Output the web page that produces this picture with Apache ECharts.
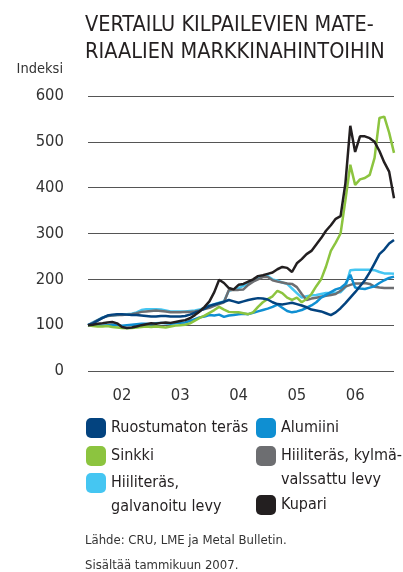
<!DOCTYPE html>
<html>
<head>
<meta charset="utf-8">
<script src="https://cdn.jsdelivr.net/npm/echarts@6/dist/echarts.min.js"></script>
<style>
  html, body { margin: 0; padding: 0; background: #fff; }
  #chart { width: 403px; height: 572px; }
</style>
</head>
<body>
<div id="chart"></div>
<script>
// kuukaudet, indeksi 100 = alku
const months = [
  "2001-11", "2001-12",
  "2002-01", "2002-02", "2002-03", "2002-04", "2002-05", "2002-06", "2002-07", "2002-08", "2002-09", "2002-10", "2002-11", "2002-12",
  "2003-01", "2003-02", "2003-03", "2003-04", "2003-05", "2003-06", "2003-07", "2003-08", "2003-09", "2003-10", "2003-11", "2003-12",
  "2004-01", "2004-02", "2004-03", "2004-04", "2004-05", "2004-06", "2004-07", "2004-08", "2004-09", "2004-10", "2004-11", "2004-12",
  "2005-01", "2005-02", "2005-03", "2005-04", "2005-05", "2005-06", "2005-07", "2005-08", "2005-09", "2005-10", "2005-11", "2005-12",
  "2006-01", "2006-02", "2006-03", "2006-04", "2006-05", "2006-06", "2006-07", "2006-08", "2006-09", "2006-10", "2006-11", "2006-12",
  "2007-01", "2007-02"
];
const yTicks = [0, 100, 200, 300, 400, 500, 600];

const ruostumaton = [100, 104, 110, 116, 121, 123, 124, 124, 123, 122, 122, 121, 120, 119, 119, 120, 120, 119, 119, 119,
  120, 123, 127, 131, 136, 142, 145, 148, 151, 155, 152, 149, 152, 155, 157, 159, 158, 156, 150, 146,
  145, 147, 149, 146, 143, 139, 134, 132, 130, 126, 122, 128, 137, 148, 160, 172, 185, 198, 215, 235,
  255, 265, 278, 286];
const alumiini = [100, 101, 100, 99, 100, 101, 100, 99, 100, 101, 102, 103, 103, 102, 104, 105, 104, 103, 104, 105,
  106, 109, 113, 117, 119, 122, 121, 123, 118, 121, 122, 124, 125, 124, 127, 130, 133, 136, 140, 145,
  138, 131, 128, 130, 133, 138, 143, 150, 160, 166, 172, 178, 181, 190, 210, 182, 180, 179, 182, 185,
  192, 198, 203, 206];
const sinkki = [100, 98, 97, 97, 98, 96, 95, 94, 93, 94, 95, 96, 97, 96, 97, 96, 95, 97, 99, 100,
  101, 104, 110, 116, 121, 127, 133, 140, 134, 129, 128, 128, 126, 124, 128, 140, 150, 157, 163, 175,
  170, 160, 155, 160, 150, 157, 168, 185, 200, 228, 262, 280, 300, 373, 450, 406, 418, 421, 428, 465,
  552, 555, 520, 476];
const kylmavalssattu = [100, 105, 111, 116, 120, 121, 122, 122, 123, 124, 126, 129, 130, 131, 132, 131, 130, 128, 128, 128,
  129, 129, 130, 132, 135, 138, 142, 146, 150, 177, 177, 177, 178, 188, 195, 200, 205, 205, 198, 195,
  193, 191, 190, 183, 168, 155, 158, 160, 162, 164, 166, 168, 175, 184, 188, 191, 191, 192, 190, 184,
  182, 181, 181, 181];
const galvanoitu = [100, 106, 111, 117, 120, 121, 122, 123, 124, 125, 128, 133, 135, 135, 135, 134, 132, 130, 130, 130,
  130, 131, 132, 134, 138, 143, 146, 149, 152, 175, 178, 181, 186, 190, 196, 202, 207, 207, 200, 197,
  193, 190, 180, 170, 160, 163, 165, 166, 168, 170, 170, 171, 172, 183, 220, 221, 221, 221, 221, 220,
  216, 213, 213, 212];
const kupari = [100, 101, 103, 104, 106, 107, 104, 96, 94, 95, 97, 100, 102, 104, 103, 105, 106, 105, 107, 109,
  111, 115, 122, 130, 140, 152, 172, 199, 192, 181, 178, 188, 190, 195, 200, 207, 209, 212, 215, 222,
  227, 225, 216, 235, 244, 255, 262, 276, 290, 306, 318, 332, 338, 410, 535, 478, 512, 512, 508, 500,
  480, 455, 435, 377];

const FONT = "'DejaVu Sans Condensed', 'DejaVu Sans', sans-serif";
const TXT = "#231f20";

function lineSeries(name, data, color) {
  return {
    name: name,
    type: "line",
    data: data,
    symbol: "none",
    smooth: false,
    lineStyle: { color: color, width: 2.5 },
    itemStyle: { color: color },
  };
}

function legendItem(name, left, top) {
  return {
    data: [name],
    left: left,
    top: top,
    padding: 0,
    icon: "roundRect",
    itemWidth: 20,
    itemHeight: 20,
    selectedMode: false,
    textStyle: { fontFamily: FONT, fontSize: 16, color: TXT, lineHeight: 24 },
    formatter: function (n) {
      // tyhjä ensimmäinen rivi, jotta laatikko on ensimmäisen rivin kohdalla
      if (n === "Hiiliteräs, galvanoitu levy") return "\nHiiliteräs,\ngalvanoitu levy";
      if (n === "Hiiliteräs, kylmävalssattu levy") return "\nHiiliteräs, kylmä-\nvalssattu levy";
      return n;
    },
  };
}

const chart = echarts.init(document.getElementById("chart"));
chart.setOption({
  animation: false,
  textStyle: { fontFamily: FONT },
  title: {
    text: "VERTAILU KILPAILEVIEN MATE-\nRIAALIEN MARKKINAHINTOIHIN",
    left: 85,
    top: 12,
    padding: 0,
    textStyle: { fontFamily: FONT, fontSize: 21.5, lineHeight: 27, fontWeight: "normal", color: TXT },
  },
  grid: { left: 88, right: 9, top: 96, bottom: 201 },
  xAxis: {
    type: "category",
    data: months,
    boundaryGap: false,
    axisLine: { show: false },
    axisTick: { show: false },
    splitLine: { show: false },
    axisLabel: {
      interval: function (idx, val) { return val.slice(5) === "06"; },
      formatter: function (val) { return val.slice(2, 4); },
      fontFamily: FONT,
      fontSize: 16.5,
      color: "#333",
      margin: 16,
    },
  },
  yAxis: {
    type: "value",
    min: yTicks[0],
    max: yTicks[yTicks.length - 1],
    interval: 100,
    name: "Indeksi",
    nameLocation: "end",
    nameGap: 27,
    nameTextStyle: { fontFamily: FONT, fontSize: 14.5, color: "#333", align: "right", verticalAlign: "middle", padding: [0, 25, 0, 0] },
    axisLine: { show: false },
    axisTick: { show: false },
    axisLabel: { fontFamily: FONT, fontSize: 16.5, color: "#333", margin: 24 },
    splitLine: { lineStyle: { color: "#555", width: 1 } },
  },
  legend: [
    legendItem("Ruostumaton teräs", 86, 416),
    legendItem("Sinkki", 86, 444),
    legendItem("Hiiliteräs, galvanoitu levy", 86, 447),
    legendItem("Alumiini", 256, 416),
    legendItem("Hiiliteräs, kylmävalssattu levy", 256, 420),
    legendItem("Kupari", 256, 493),
  ],
  series: [
    lineSeries("Hiiliteräs, galvanoitu levy", galvanoitu, "#45c6f2"),
    lineSeries("Hiiliteräs, kylmävalssattu levy", kylmavalssattu, "#6d6e71"),
    lineSeries("Alumiini", alumiini, "#0f8fd2"),
    lineSeries("Sinkki", sinkki, "#8cc43f"),
    lineSeries("Ruostumaton teräs", ruostumaton, "#03437f"),
    lineSeries("Kupari", kupari, "#231f20"),
  ],
  graphic: [
    { type: "text", left: 85, top: 534, style: { text: "Lähde: CRU, LME ja Metal Bulletin.", font: "13px " + FONT, fill: "#333" } },
    { type: "text", left: 85, top: 559, style: { text: "Sisältää tammikuun 2007.", font: "13px " + FONT, fill: "#333" } },
  ],
});
</script>
</body>
</html>
